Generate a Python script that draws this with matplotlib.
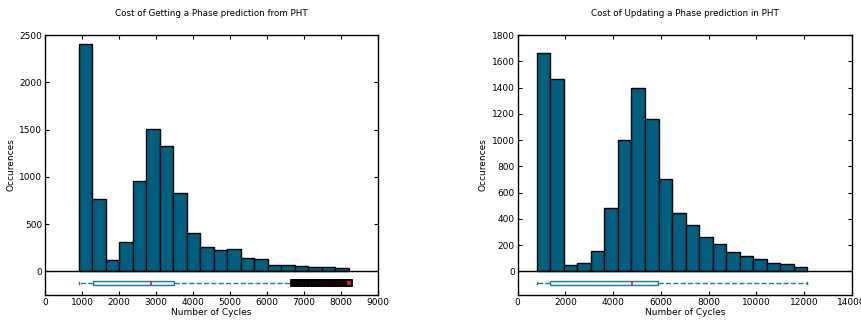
import numpy as np
import matplotlib
matplotlib.use("Agg")
import matplotlib.pyplot as plt

# histogram counts (20 equal-width bins each)
get_counts = [2410, 764, 116, 313, 954, 1507, 1327, 831, 408, 254,
              225, 236, 141, 134, 70, 63, 60, 42, 42, 35]
get_range = (918, 8209)
get_box = dict(whislo=918, q1=1287, med=2862, q3=3492, whishi=6724)
get_fliers = [6740, 6770, 6800, 6830, 6860, 6890, 6920, 6950, 6990, 7030,
              7070, 7110, 7150, 7190, 7230, 7270, 7310, 7350, 7400, 7450,
              7500, 7550, 7600, 7650, 7700, 7750, 7800, 7850, 7900, 7950,
              8000, 8050, 8100, 8150, 8209]

upd_counts = [1661, 1466, 51, 61, 155, 482, 999, 1395, 1164, 707,
              441, 352, 264, 210, 150, 114, 96, 63, 56, 35]
upd_range = (796, 12142)
upd_box = dict(whislo=796, q1=1369, med=4792, q3=5896, whishi=12142)
upd_fliers = []

panels = [
    ("Cost of Getting a Phase prediction from PHT", get_counts, get_range,
     get_box, get_fliers, 2500, 500, 9000, 1000),
    ("Cost of Updating a Phase prediction in PHT", upd_counts, upd_range,
     upd_box, upd_fliers, 1800, 200, 14000, 2000),
]

bar_color = "#005f7e"
box_color = "#1f7c9c"

fig = plt.figure(figsize=(8.62, 3.2), dpi=100)
positions = [[0.0522, 0.078, 0.3863, 0.8125], [0.6006, 0.078, 0.3875, 0.8125]]

for pos, (title, counts, rng, box, fliers, ymax, ystep, xmax, xstep) in zip(positions, panels):
    ax = fig.add_axes(pos)
    edges = np.linspace(rng[0], rng[1], len(counts) + 1)
    ax.bar(edges[:-1], counts, width=np.diff(edges), align="edge",
           color=bar_color, edgecolor="black", linewidth=1.0, zorder=2)
    ax.axhline(0, color="black", linewidth=1.0, zorder=3)

    stats = dict(box, fliers=fliers)
    ax.bxp([stats], positions=[-0.05 * ymax], widths=0.017 * ymax, vert=False,
           manage_ticks=False, patch_artist=True,
           boxprops=dict(facecolor="#eaf6f9", edgecolor=box_color, linewidth=1.0),
           whiskerprops=dict(color=box_color, linestyle="--", linewidth=1.0),
           capprops=dict(color=box_color, linewidth=1.0),
           medianprops=dict(color="#c03030", linewidth=1.2),
           flierprops=dict(marker="s", markersize=3.8, markerfacecolor="#d02020",
                           markeredgecolor="black", markeredgewidth=1.3))

    ax.set_xlim(0, xmax)
    ax.set_ylim(-0.1 * ymax, ymax)
    ax.set_xticks(np.arange(0, xmax + 1, xstep))
    ax.set_yticks(np.arange(0, ymax + 1, ystep))
    ax.tick_params(direction="in", top=True, right=True, labelsize=6.5,
                   length=3, width=0.8, pad=2)
    for s in ax.spines.values():
        s.set_linewidth(1.0)
    ax.set_title(title, fontsize=6.3, pad=14)
    ax.set_xlabel("Number of Cycles", fontsize=6.5, labelpad=1)
    ax.set_ylabel("Occurences", fontsize=6.5, labelpad=3)

fig.savefig("out.png", dpi=100)
